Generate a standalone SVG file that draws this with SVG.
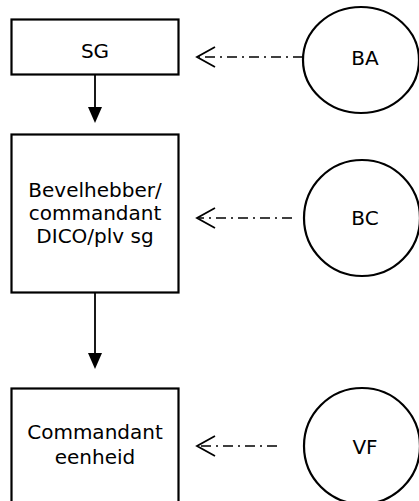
<svg xmlns="http://www.w3.org/2000/svg" width="419" height="501" viewBox="0 0 419 501">
<style>
.box{fill:#fff;stroke:#000;stroke-width:2.2}
.circ{fill:#fff;stroke:#000;stroke-width:2.2}
.t{font-family:"DejaVu Sans",sans-serif;font-size:20px;fill:#000;text-anchor:middle}
.solid{stroke:#000;stroke-width:1.8;fill:none}
.dash{stroke:#000;stroke-width:1.6;fill:none;stroke-dasharray:10 5 2 5}
.head{fill:none;stroke:#000;stroke-width:1.8}
.tri{fill:#000}
</style>
<g id="connectors">
<path class="solid" d="M95,75 V107"/>
<path class="tri" d="M88,107 L102,107 L95,123 Z"/>
<path class="solid" d="M95,293 V353"/>
<path class="tri" d="M88,353 L102,353 L95,369 Z"/>
<path class="dash" d="M303,57 H199"/>
<path class="head" d="M215,47 L197,57 L215,67"/>
<path class="dash" d="M292,218 H199"/>
<path class="head" d="M215,208 L197,218 L215,228"/>
<path class="dash" d="M277,446 H199"/>
<path class="head" d="M215,436 L197,446 L215,456"/>
</g>
<g id="SG">
<rect class="box" x="11.5" y="19.5" width="167" height="55"/>
<text class="t" x="95" y="58">SG</text>
</g>
<g id="Bevelhebber">
<rect class="box" x="11.5" y="134.5" width="167" height="158"/>
<text class="t" x="95" y="197">Bevelhebber/</text>
<text class="t" x="95" y="220">commandant</text>
<text class="t" x="95" y="243">DICO/plv sg</text>
</g>
<g id="Commandant">
<rect class="box" x="11.5" y="388.5" width="167" height="130"/>
<text class="t" x="95" y="439">Commandant</text>
<text class="t" x="95" y="464">eenheid</text>
</g>
<g id="BA">
<ellipse class="circ" cx="361" cy="60" rx="58" ry="53"/>
<text class="t" x="365" y="65">BA</text>
</g>
<g id="BC">
<ellipse class="circ" cx="362" cy="218" rx="58" ry="58"/>
<text class="t" x="365" y="225">BC</text>
</g>
<g id="VF">
<ellipse class="circ" cx="362" cy="446" rx="58" ry="58"/>
<text class="t" x="365" y="454">VF</text>
</g>
</svg>
